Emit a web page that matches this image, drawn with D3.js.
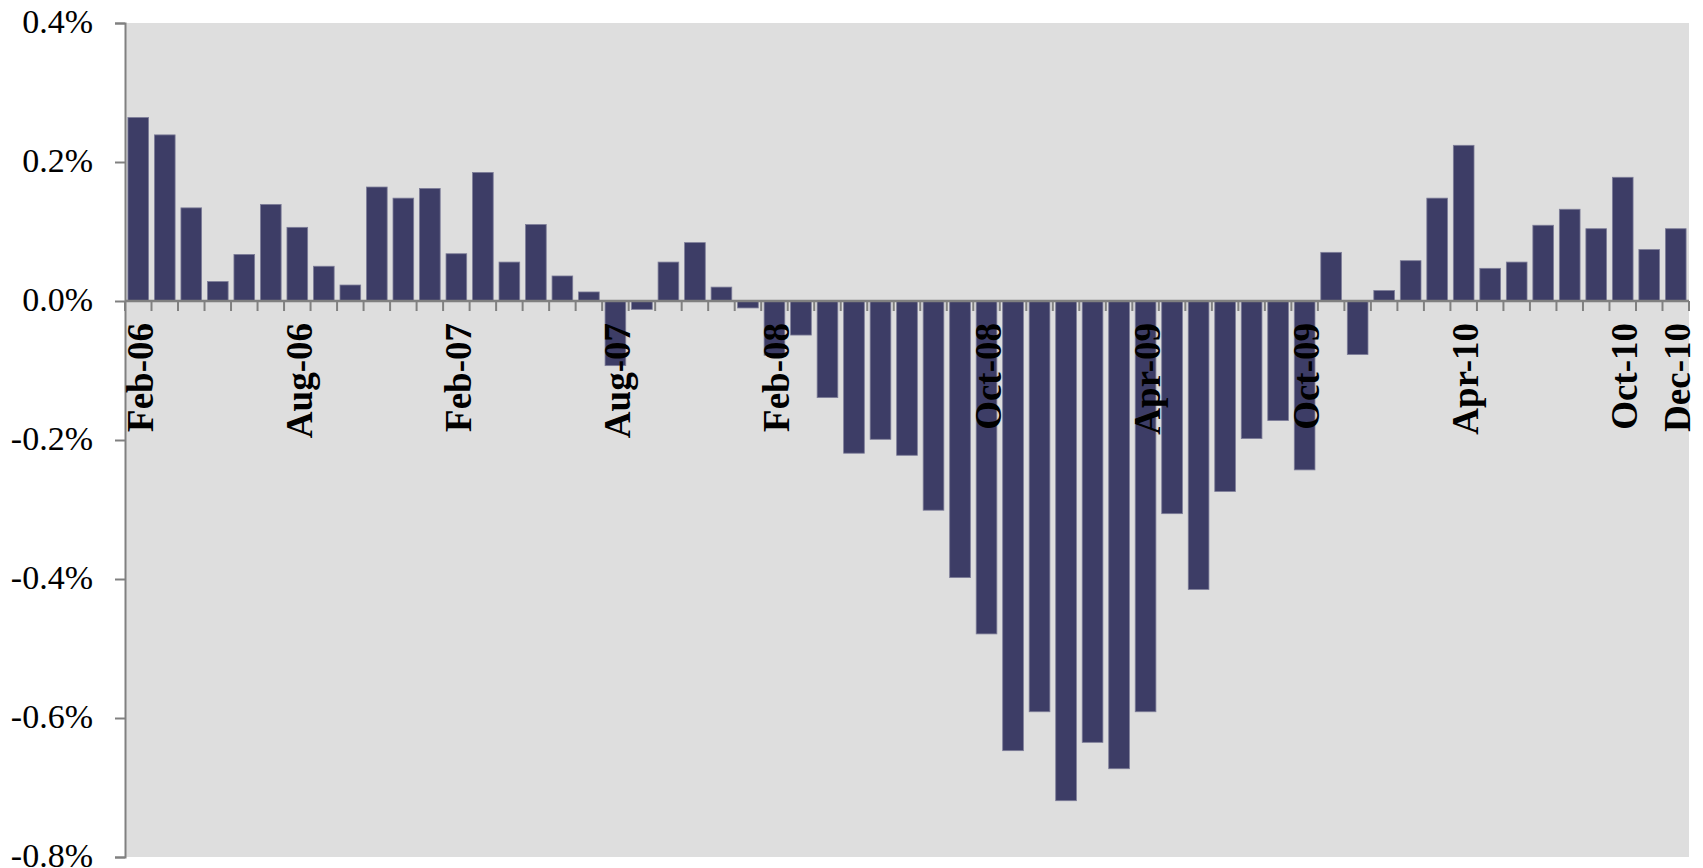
<!DOCTYPE html>
<html>
<head>
<meta charset="utf-8">
<script src="https://cdn.jsdelivr.net/npm/d3@7"></script>
<style>
  html, body { margin: 0; padding: 0; background: #ffffff; }
  svg { display: block; }
</style>
</head>
<body>
<svg id="chart" width="1703" height="868"></svg>
<script>
// ---- data ----
const months = [
  "Feb-06","Mar-06","Apr-06","May-06","Jun-06","Jul-06","Aug-06","Sep-06","Oct-06","Nov-06","Dec-06",
  "Jan-07","Feb-07","Mar-07","Apr-07","May-07","Jun-07","Jul-07","Aug-07","Sep-07","Oct-07","Nov-07","Dec-07",
  "Jan-08","Feb-08","Mar-08","Apr-08","May-08","Jun-08","Jul-08","Aug-08","Sep-08","Oct-08","Nov-08","Dec-08",
  "Jan-09","Feb-09","Mar-09","Apr-09","May-09","Jun-09","Jul-09","Aug-09","Sep-09","Oct-09","Nov-09","Dec-09",
  "Jan-10","Feb-10","Mar-10","Apr-10","May-10","Jun-10","Jul-10","Aug-10","Sep-10","Oct-10","Nov-10","Dec-10"
];
// values in percent
const values = [
  0.264, 0.239, 0.134, 0.028, 0.067, 0.139, 0.106, 0.050, 0.023, 0.164, 0.148,
  0.162, 0.068, 0.185, 0.056, 0.110, 0.036, 0.013, -0.093, -0.012, 0.056, 0.084, 0.020,
  -0.010, -0.078, -0.049, -0.139, -0.219, -0.199, -0.222, -0.301, -0.398, -0.479, -0.647, -0.591,
  -0.719, -0.635, -0.673, -0.591, -0.306, -0.415, -0.274, -0.198, -0.172, -0.243, 0.070, -0.077,
  0.015, 0.058, 0.148, 0.224, 0.047, 0.056, 0.109, 0.132, 0.104, 0.178, 0.074, 0.104
];
const shownLabels = ["Feb-06","Aug-06","Feb-07","Aug-07","Feb-08","Oct-08","Apr-09","Oct-09","Apr-10","Oct-10","Dec-10"];
const yTicks = [0.4, 0.2, 0.0, -0.2, -0.4, -0.6, -0.8];

// ---- layout ----
const plot = { left: 125, right: 1689, top: 23, bottom: 857 };
const svg = d3.select("#chart");

const x = d3.scaleBand()
  .domain(months)
  .range([plot.left, plot.right])
  .paddingInner(0.22)
  .paddingOuter(0.11);

const y = d3.scaleLinear()
  .domain([-0.8, 0.4])
  .range([plot.bottom, plot.top]);

// plot background
svg.append("rect")
  .attr("x", plot.left).attr("y", plot.top)
  .attr("width", plot.right - plot.left)
  .attr("height", plot.bottom - plot.top)
  .attr("fill", "#dedede");

// bars
svg.append("g").selectAll("rect")
  .data(values)
  .join("rect")
  .attr("x", (d, i) => x(months[i]))
  .attr("width", x.bandwidth())
  .attr("y", d => y(Math.max(0, d)))
  .attr("height", d => Math.abs(y(d) - y(0)))
  .attr("fill", "#3d3d66")
  .attr("stroke", "#7d7d98")
  .attr("stroke-width", 0.8);

// y axis
const yAxis = d3.axisLeft(y)
  .tickValues(yTicks)
  .tickSize(10)
  .tickPadding(22)
  .tickFormat(v => v.toFixed(1) + "%");

const gy = svg.append("g")
  .attr("transform", `translate(${plot.left},0)`)
  .call(yAxis);
gy.select(".domain").attr("stroke", "#808080").attr("stroke-width", 2);
gy.selectAll(".tick line").attr("stroke", "#808080").attr("stroke-width", 2);
gy.selectAll(".tick text")
  .attr("font-family", "'Liberation Serif', 'Times New Roman', serif")
  .attr("font-size", 34)
  .attr("fill", "#000")
  .attr("dy", "0.28em");

// x axis along zero line: ticks at band boundaries
const step = x.step();
const boundaries = d3.range(months.length + 1).map(i => plot.left + i * step);
const gx = svg.append("g");
gx.selectAll("line.tick")
  .data(boundaries)
  .join("line")
  .attr("class", "tick")
  .attr("x1", d => d).attr("x2", d => d)
  .attr("y1", y(0)).attr("y2", y(0) + 10)
  .attr("stroke", "#808080")
  .attr("stroke-width", 2);
gx.append("line")
  .attr("x1", plot.left).attr("x2", plot.right)
  .attr("y1", y(0)).attr("y2", y(0))
  .attr("stroke", "#808080")
  .attr("stroke-width", 2.5);

// category labels
gx.selectAll("text")
  .data(shownLabels)
  .join("text")
  .attr("transform", d => `translate(${x(d) + x.bandwidth() / 2},${y(0) + 22}) rotate(-90)`)
  .attr("text-anchor", "end")
  .attr("dy", "0.39em")
  .attr("font-family", "'Liberation Serif', 'Times New Roman', serif")
  .attr("font-weight", "bold")
  .attr("font-size", 37)
  .attr("fill", "#000")
  .text(d => d);
</script>
</body>
</html>
